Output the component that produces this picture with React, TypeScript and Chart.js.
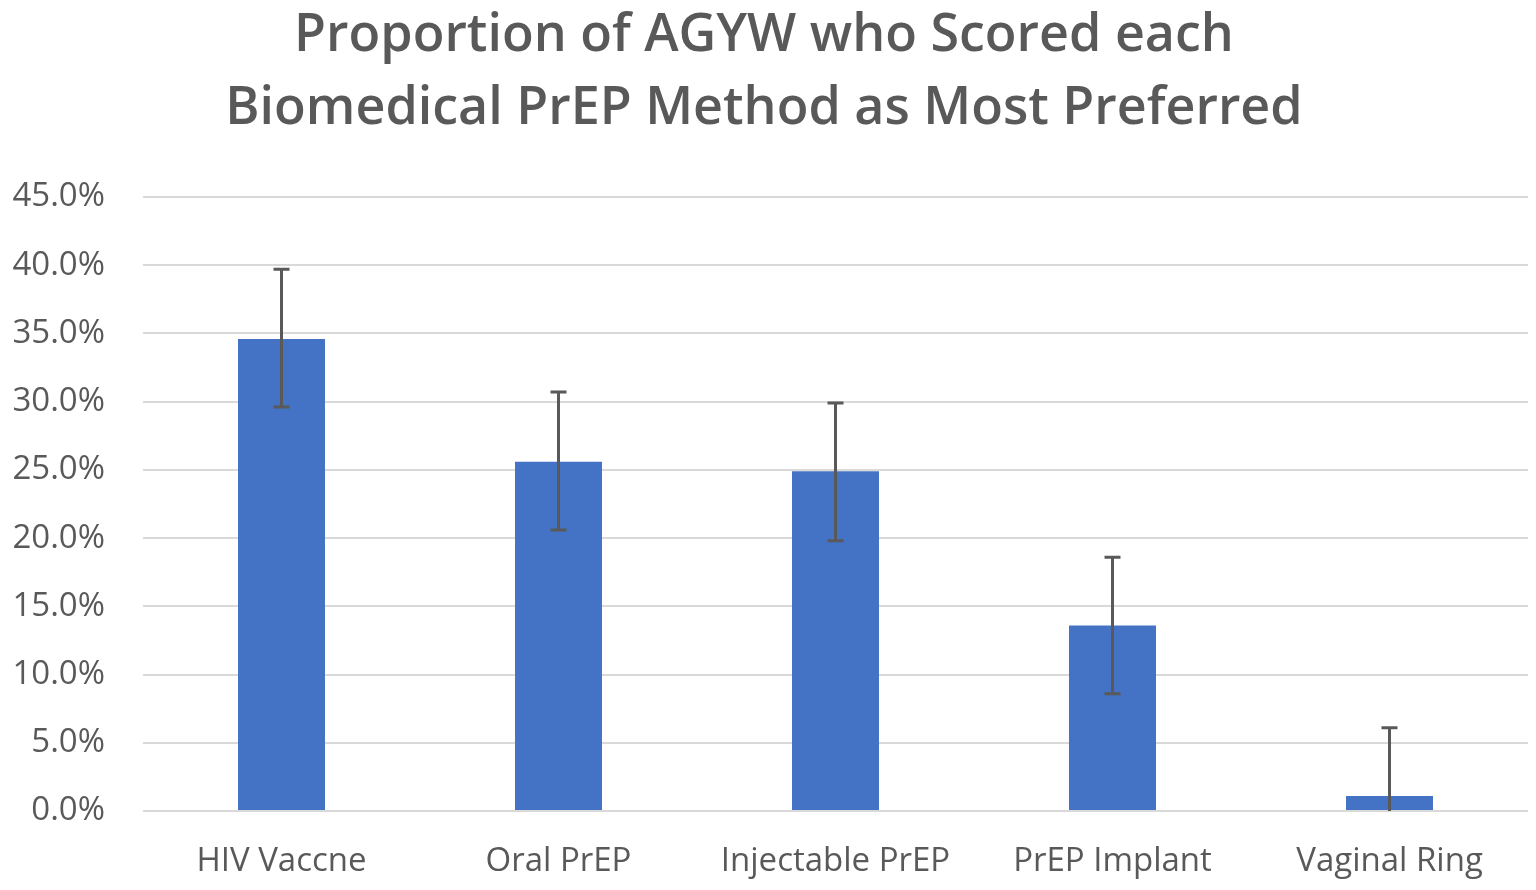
import { useEffect, useRef } from 'react';
import { Chart, registerables } from 'chart.js';

Chart.register(...registerables);

const categories = ['HIV Vaccne', 'Oral PrEP', 'Injectable PrEP', 'PrEP Implant', 'Vaginal Ring'];
const preferred = [34.6, 25.6, 24.9, 13.6, 1.1];
const errorHigh = [39.7, 30.7, 29.9, 18.6, 6.1];
const errorLow = [29.6, 20.6, 19.8, 8.6, 0];

const textColor = '#595959';
const fontFamily = '"Open Sans", "Noto Sans", sans-serif';

// draws the error bars on top of the bars, positioned by the y scale
const errorBars = {
  id: 'errorBars',
  afterDatasetsDraw(chart: Chart) {
    const { ctx } = chart;
    const y = chart.scales.y;
    const meta = chart.getDatasetMeta(0);
    ctx.save();
    ctx.strokeStyle = '#595959';
    ctx.lineWidth = 3;
    meta.data.forEach((bar: any, i: number) => {
      const top = y.getPixelForValue(errorHigh[i]);
      const bottom = y.getPixelForValue(errorLow[i]);
      ctx.beginPath();
      ctx.moveTo(bar.x, top);
      ctx.lineTo(bar.x, bottom);
      ctx.moveTo(bar.x - 8, top);
      ctx.lineTo(bar.x + 8, top);
      if (errorLow[i] > 0) {
        ctx.moveTo(bar.x - 8, bottom);
        ctx.lineTo(bar.x + 8, bottom);
      }
      ctx.stroke();
    });
    ctx.restore();
  },
};

export default function App() {
  const chartRef = useRef<HTMLCanvasElement>(null);

  useEffect(() => {
    document.body.style.margin = '0';
    if (!chartRef.current) return;
    const chart = new Chart(chartRef.current, {
      type: 'bar',
      data: {
        labels: categories,
        datasets: [
          {
            label: 'Most preferred',
            data: preferred,
            backgroundColor: '#4472C4',
            barPercentage: 0.314,
            categoryPercentage: 1,
          },
        ],
      },
      options: {
        animation: false,
        responsive: true,
        maintainAspectRatio: false,
        layout: { padding: { left: 0, right: 8, top: 0, bottom: 0 } },
        plugins: {
          legend: { display: false },
          tooltip: { enabled: false },
          title: {
            display: true,
            text: ['Proportion of AGYW who Scored each', 'Biomedical PrEP Method as Most Preferred'],
            color: textColor,
            font: { family: fontFamily, size: 52, weight: 600, lineHeight: '73px' },
            padding: { top: 0, bottom: 51 },
          },
        },
        scales: {
          x: {
            grid: { display: false, drawTicks: false },
            border: { display: false },
            ticks: { color: textColor, font: { family: fontFamily, size: 33 }, padding: 31 },
            afterFit(scale: any) {
              scale.height = 79;
            },
          },
          y: {
            min: 0,
            max: 45,
            ticks: {
              stepSize: 5,
              color: textColor,
              font: { family: fontFamily, size: 33 },
              padding: 38,
              callback: (v: any) => Number(v).toFixed(1) + '%',
            },
            grid: { color: '#d9d9d9', lineWidth: 2, drawTicks: false },
            border: { display: false },
            afterFit(scale: any) {
              scale.width = 143;
            },
          },
        },
      },
      plugins: [errorBars],
    });
    return () => chart.destroy();
  }, []);

  return (
    <div style={{ width: 1536, height: 890, position: 'relative', background: '#fff' }}>
      <canvas ref={chartRef} />
    </div>
  );
}
